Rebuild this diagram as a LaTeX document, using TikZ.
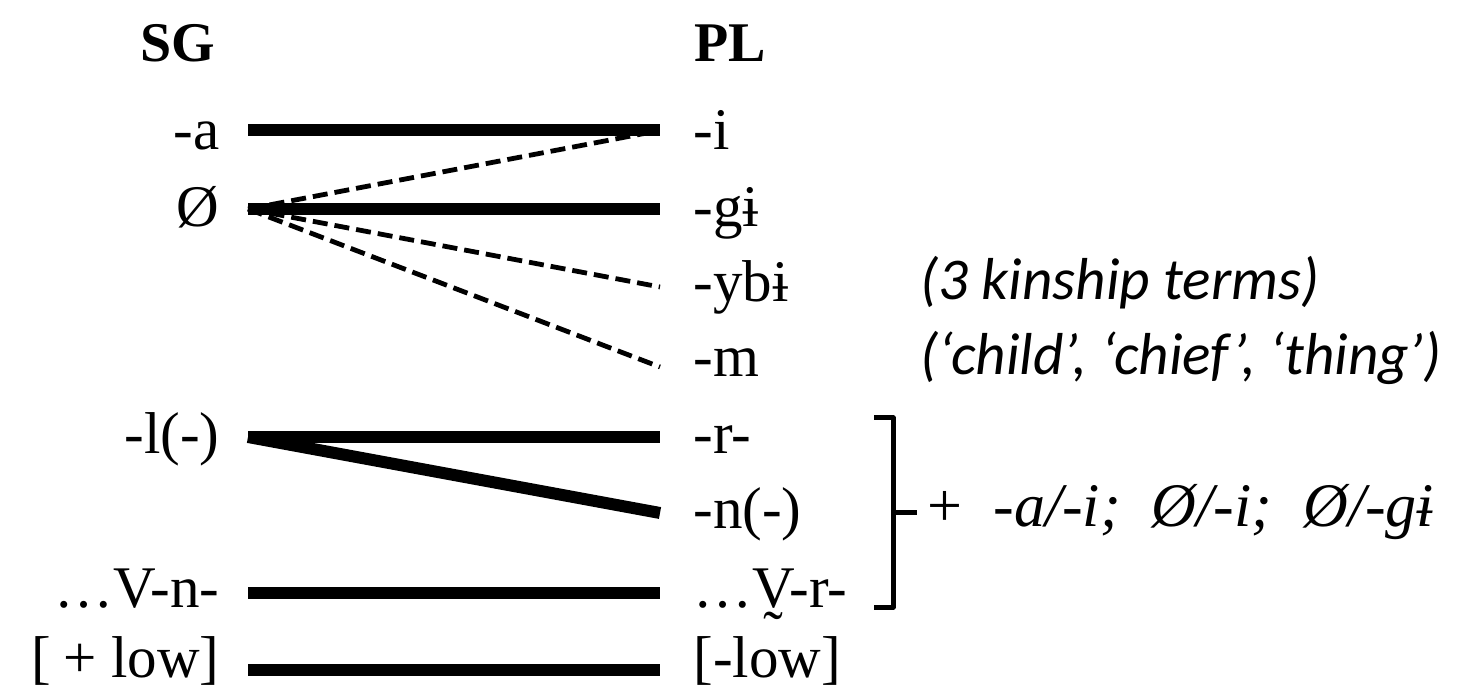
\documentclass[tikz,border=0pt]{standalone}
\usepackage{fontspec}
\setmainfont{Liberation Serif}
\newfontfamily\calib{Carlito}
\begin{document}
\begin{tikzpicture}[x=0.5pt,y=-0.5pt,
  lab/.style={font=\fontsize{29.5}{31}\selectfont, inner sep=0pt},
  hdr/.style={font=\fontsize{28}{30}\selectfont\bfseries, inner sep=0pt, anchor=base},
  lft/.style={lab, anchor=base east},
  rgt/.style={lab, anchor=base west},
  note/.style={font=\fontsize{29.6}{31}\selectfont\calib\itshape, inner sep=0pt, anchor=base west},
  plusnote/.style={font=\fontsize{31}{33}\selectfont, inner sep=0pt, anchor=base west},
  solidlink/.style={line width=6pt, line cap=butt},
  dashlink/.style={line width=2.4pt, dash pattern=on 7.5pt off 3.5pt},
  bracketline/.style={line width=2.5pt, line join=round}
]
\useasboundingbox (0,0) rectangle (1460,688);
% headers
\node[hdr] (sg) at (178,62) {SG};
\node[hdr] (pl) at (730,62) {PL};
% left labels
\node[lft] (sa) at (220,150) {-a};
\node[lft] (so) at (220,227) {Ø};
\node[lft] (sl) at (220,454) {-l(-)};
\node[lft] (sv) at (220,607) {…V-n-};
\node[lft] (sw) at (220,677) {[\kern0.2em+\kern0.25em low]};
% right labels
\node[rgt] (pi) at (693,150) {-i};
\node[rgt] (pg) at (693,227) {-gɨ};
\node[rgt] (py) at (693,302) {-ybɨ};
\node[rgt] (pm) at (693,377) {-m};
\node[rgt] (pr) at (693,454) {-r-};
\node[rgt] (pn) at (693,529) {-n(-)};
\node[rgt] (pv) at (693,607) {…V̰-r-};
\node[rgt] (pw) at (693,677) {[-low]};
% notes
\node[note] (kin) at (920,300) {(3 kinship terms)};
\node[note] (glo) at (920,375) {(‘child’, ‘chief’, ‘thing’)};
\node[plusnote] (plus) at (927,527) {+\hspace{0.5em}\textit{-a/-i;\hspace{0.5em}Ø/-i;\hspace{0.5em}Ø/-gɨ}};
% line end points
\coordinate (La) at (248,130);
\coordinate (Lo) at (248,209);
\coordinate (Ll) at (248,437);
\coordinate (Lv) at (248,593);
\coordinate (Lw) at (248,670);
\coordinate (Ri) at (660,130);
\coordinate (Rid) at (652,132);
\coordinate (Rg) at (660,209);
\coordinate (Ry) at (660,287);
\coordinate (Rm) at (660,367);
\coordinate (Rr) at (660,437);
\coordinate (Rn) at (660,513);
\coordinate (Rv) at (660,593);
\coordinate (Rw) at (660,670);
% connectors
\draw[solidlink] (La) -- (Ri);
\draw[solidlink] (Lo) -- (Rg);
\draw[dashlink] (Lo) -- (Rid);
\draw[dashlink] (Lo) -- (Ry);
\draw[dashlink] (Lo) -- (Rm);
\draw[solidlink] (Ll) -- (Rr);
\draw[solidlink] (Ll) -- (Rn);
\draw[solidlink] (Lv) -- (Rv);
\draw[solidlink] (Lw) -- (Rw);
% bracket
\coordinate (Bt) at (874,418);
\coordinate (Bb) at (874,607);
\coordinate (Bm) at (893,513);
\coordinate (Bp) at (917,513);
\draw[bracketline] (Bt) -- (893,418) -- (893,607) -- (Bb);
\draw[bracketline] (Bm) -- (Bp);
\end{tikzpicture}
\end{document}
